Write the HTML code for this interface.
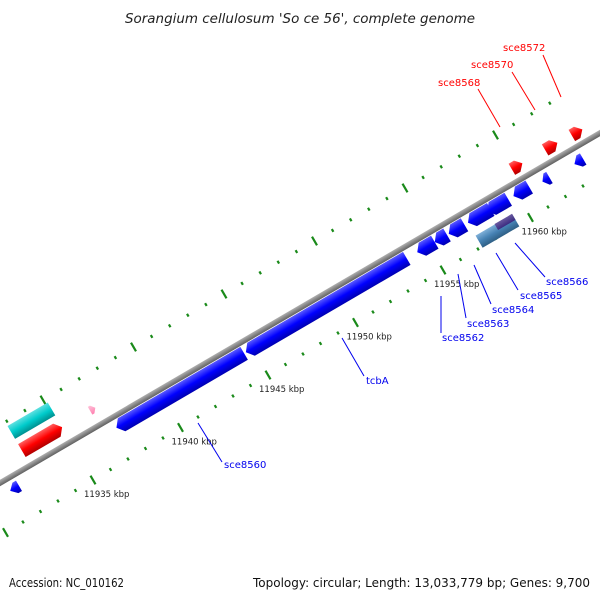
<!DOCTYPE html>
<html><head><meta charset="utf-8"><style>
html,body{margin:0;padding:0;background:#fff;}
svg{display:block;font-family:"DejaVu Sans","Liberation Sans",sans-serif;}
</style></head><body>
<svg id="map" width="600" height="600" viewBox="0 0 600 600" xmlns="http://www.w3.org/2000/svg">
<defs>
<linearGradient id="gBlue" x1="0" y1="0" x2="0" y2="1"><stop offset="0" stop-color="#5a5aff"/><stop offset="0.5" stop-color="#0000ff"/><stop offset="1" stop-color="#0000b0"/></linearGradient>
<linearGradient id="gRed" x1="0" y1="0" x2="0" y2="1"><stop offset="0" stop-color="#ff6060"/><stop offset="0.5" stop-color="#ff0000"/><stop offset="1" stop-color="#b00000"/></linearGradient>
<linearGradient id="gCyan" x1="0" y1="0" x2="0" y2="1"><stop offset="0" stop-color="#60e0e0"/><stop offset="0.5" stop-color="#00cccc"/><stop offset="1" stop-color="#008f8f"/></linearGradient>
<linearGradient id="gSteel" x1="0" y1="0" x2="0" y2="1"><stop offset="0" stop-color="#7fb0d8"/><stop offset="0.5" stop-color="#4682b4"/><stop offset="1" stop-color="#2f5f85"/></linearGradient>
<linearGradient id="gPurple" x1="0" y1="0" x2="0" y2="1"><stop offset="0" stop-color="#6a5aa0"/><stop offset="1" stop-color="#3a2a80"/></linearGradient>
<linearGradient id="gPink" x1="0" y1="0" x2="0" y2="1"><stop offset="0" stop-color="#ffc0d8"/><stop offset="1" stop-color="#ff80b0"/></linearGradient>
<linearGradient id="gGray" x1="0" y1="0" x2="0" y2="1"><stop offset="0" stop-color="#b0b0b0"/><stop offset="0.5" stop-color="#888"/><stop offset="1" stop-color="#606060"/></linearGradient>
</defs>
<text x="300" y="23" text-anchor="middle" font-size="13" font-style="italic" fill="#222" textLength="350" lengthAdjust="spacingAndGlyphs">Sorangium cellulosum 'So ce 56', complete genome</text>
<g id="ticks"></g>
<g id="frame" transform="translate(0,483) rotate(-30.26)">
<rect x="-20" y="-2.8" width="760" height="5.6" fill="url(#gGray)"/>
<g id="genes"></g>
</g>
<g id="labels"></g>
<text x="9" y="587" font-size="12" fill="#111" textLength="115" lengthAdjust="spacingAndGlyphs">Accession: NC_010162</text>
<text x="253" y="587" font-size="12" fill="#111" textLength="337" lengthAdjust="spacingAndGlyphs">Topology: circular; Length: 13,033,779 bp; Genes: 9,700</text>
</svg>
<script>
// gene data (kbp)
const geneNames = ["g-left","sce8560","tcbA","g3","g4","g5","g6","g7","g8","g9","g10","steel","purple","red-a","cyan","pink","sce8568","sce8570","sce8572"];
const geneStart = [11931.2,11937.3,11944.7,11954.5,11955.5,11956.3,11957.4,11958.5,11960.0,11961.6,11963.4,11957.4,11958.5,11932.7,11932.7,11936.6,11960.6,11962.5,11964.0];
const geneEnd   = [11931.7,11944.6,11953.9,11955.5,11956.2,11957.2,11958.7,11959.7,11960.9,11962.0,11963.9,11959.5,11959.5,11935.0,11935.0,11936.9,11961.2,11963.2,11964.6];
const geneStrand= [-1,-1,-1,-1,-1,-1,-1,-1,-1,-1,-1,0,0,1,0,1,1,1,1];
const geneOffset= [12,11,11,11,11,11,11,11,11,13,14,33,29,-17,-38,-17,-13,-13,-12];
const geneHeight= [12,15,15,15,15,15,15,15,15,13,13,14,7,15,15,9,13,13,13];
const geneFill  = ["gBlue","gBlue","gBlue","gBlue","gBlue","gBlue","gBlue","gBlue","gBlue","gBlue","gBlue","gSteel","gPurple","gRed","gCyan","gPink","gRed","gRed","gRed"];
// tick rings (kbp)
const lowerTicks = [];
for (let k=11930;k<=11963;k++) lowerTicks.push(k);
const upperTicks = [];
for (let k=11933;k<=11963;k++) upperTicks.push(k);
const tickLabels = [11935,11940,11945,11950,11955,11960];

const NS="http://www.w3.org/2000/svg";
function uOf(k){return 81.8+(k-11935)*20.25;}
function lowerXY(k){return [93+(k-11935)*17.5, 480-(k-11935)*10.5];}
function upperXY(k){return [43+(k-11935)*18.1, 400-(k-11935)*10.6];}

const tg=document.getElementById('ticks');
function drawTick(xy,major,name){
  const l=document.createElementNS(NS,'line');
  const len=major?5:1.6;
  l.setAttribute('x1',xy[0]-0.5*len);l.setAttribute('y1',xy[1]-0.86*len);
  l.setAttribute('x2',xy[0]+0.5*len);l.setAttribute('y2',xy[1]+0.86*len);
  l.setAttribute('stroke','#1a8a1a');l.setAttribute('stroke-width','2.2');
  
  
  tg.appendChild(l);
}
lowerTicks.forEach(k=>drawTick(lowerXY(k),k%5===0,'lower-tick'));
upperTicks.forEach(k=>drawTick(upperXY(k),k%5===0,'upper-tick'));
tickLabels.forEach(k=>{
  const xy=lowerXY(k);
  const t=document.createElementNS(NS,'text');
  t.setAttribute('x',xy[0]-9);t.setAttribute('y',xy[1]+17);
  t.setAttribute('font-size','8.5');t.setAttribute('fill','#222');
  t.textContent=k+' kbp';
  
  
  tg.appendChild(t);
});

const gg=document.getElementById('genes');
geneNames.forEach((n,i)=>{
  const a=uOf(geneStart[i]), b=uOf(geneEnd[i]);
  const h=geneHeight[i], c=geneOffset[i], t=c-h/2, bt=c+h/2;
  const ah=Math.min(6,(b-a)*0.6);
  let pts;
  if(geneStrand[i]===1) pts=[[a,t],[b-ah,t],[b,c],[b-ah,bt],[a,bt]];
  else if(geneStrand[i]===-1) pts=[[a+ah,t],[b,t],[b,bt],[a+ah,bt],[a,c]];
  else pts=[[a,t],[b,t],[b,bt],[a,bt]];
  const p=document.createElementNS(NS,'polygon');
  p.setAttribute('points',pts.map(q=>q.join(',')).join(' '));
  p.setAttribute('fill','url(#'+geneFill[i]+')');
  
  
  gg.appendChild(p);
});

// labels: [x, y, lx1, ly1, lx2, ly2, color]
const labelText=["sce8560","tcbA","sce8562","sce8563","sce8564","sce8565","sce8566","sce8568","sce8570","sce8572"];
const labelPos=[[224,468,198,423,222,462,"#0000ee"],[366,384,342,338,364,376,"#0000ee"],[442,341,441,296,441,333,"#0000ee"],[467,327,458,274,466,318,"#0000ee"],[492,313,474,265,491,304,"#0000ee"],[520,299,496,253,518,290,"#0000ee"],[546,285,515,243,545,277,"#0000ee"],[438,86,478,89,500,127,"#ff0000"],[471,68,512,72,535,110,"#ff0000"],[503,51,543,55,561,97,"#ff0000"]];
const lg=document.getElementById('labels');
labelText.forEach((s,i)=>{
  const q=labelPos[i];
  const l=document.createElementNS(NS,'line');
  l.setAttribute('x1',q[2]);l.setAttribute('y1',q[3]);l.setAttribute('x2',q[4]);l.setAttribute('y2',q[5]);
  l.setAttribute('stroke',q[6]);l.setAttribute('stroke-width','1');
  
  
  lg.appendChild(l);
  const t=document.createElementNS(NS,'text');
  t.setAttribute('x',q[0]);t.setAttribute('y',q[1]);t.setAttribute('font-size','10');t.setAttribute('fill',q[6]);
  t.textContent=s;
  
  
  lg.appendChild(t);
});
</script>
</body></html>
